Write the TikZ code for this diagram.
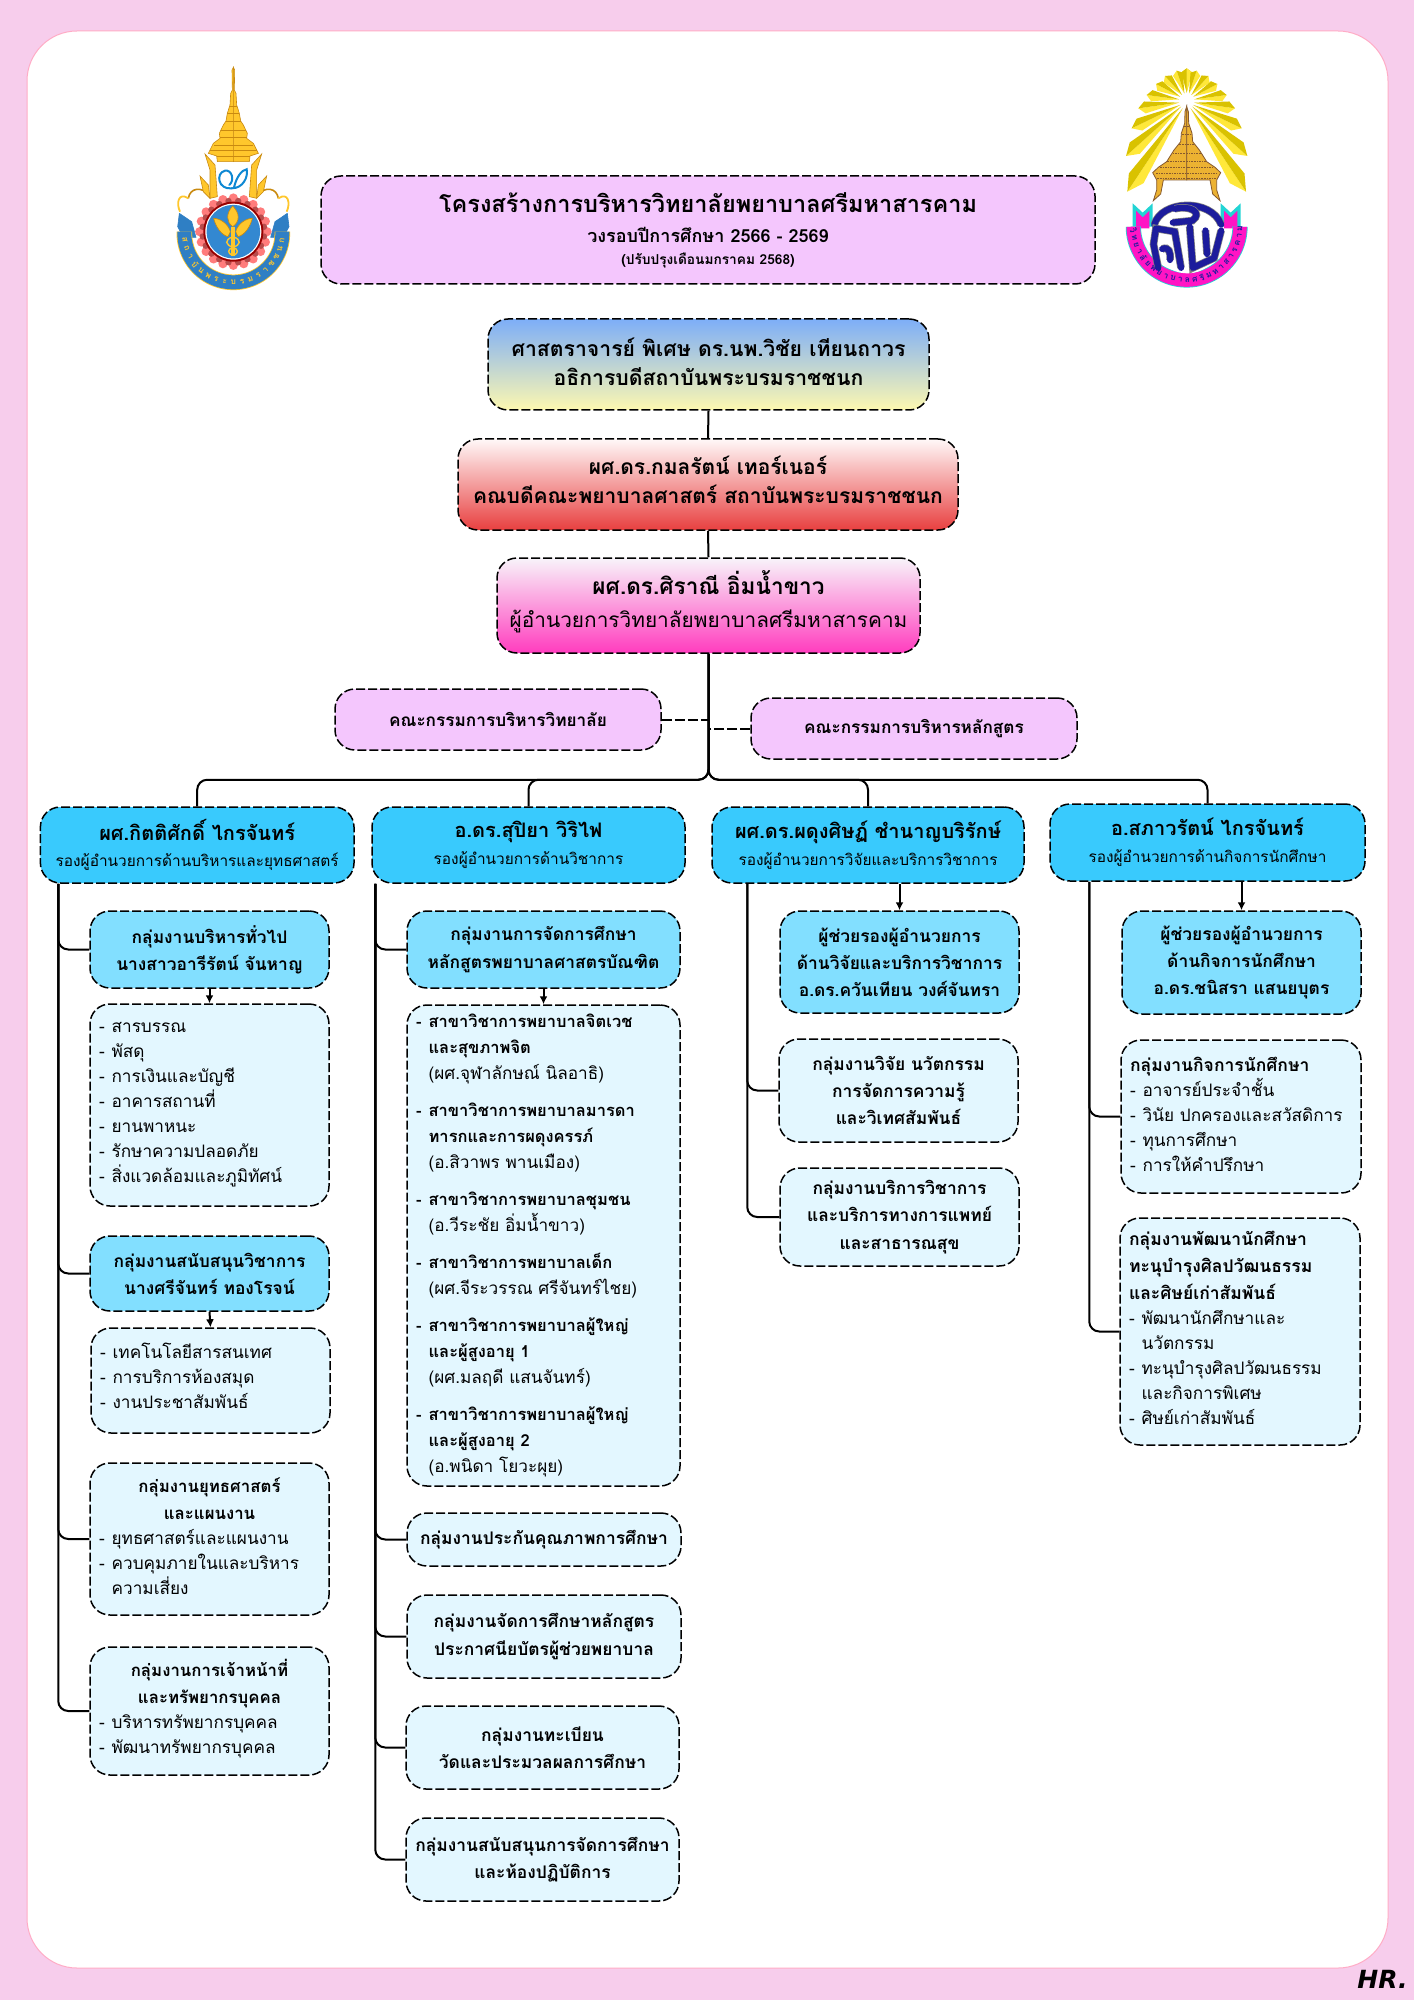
\documentclass[tikz,border=0pt]{standalone}
\usepackage{fontspec}
\setmainfont[Script=Thai]{Loma}
\newfontfamily\hrfont{DejaVu Sans}
\usetikzlibrary{calc,arrows.meta}
\lineskiplimit=-100pt
\definecolor{bgpink}{HTML}{F7CDEC}
\definecolor{headblue}{HTML}{39CAFD}
\definecolor{subblue}{HTML}{82DFFF}
\definecolor{lightblue}{HTML}{E3F7FF}
\definecolor{titlepink}{HTML}{F4C6FD}
\definecolor{goldA}{HTML}{FFC72C}
\definecolor{goldB}{HTML}{C98A10}
\definecolor{ribA}{HTML}{2F7FC4}
\definecolor{rayL}{HTML}{FFE83A}
\definecolor{rayD}{HTML}{D9C200}
\definecolor{embB}{HTML}{1C1C9C}
\definecolor{magB}{HTML}{FF14C4}
\definecolor{cyanB}{HTML}{22D4D4}
\definecolor{gAt}{HTML}{7DAEF8}
\definecolor{gAb}{HTML}{FDF8B0}
\definecolor{gBt}{HTML}{FFF8F8}
\definecolor{gBb}{HTML}{E84040}
\definecolor{gCt}{HTML}{F8F4FA}
\definecolor{gCb}{HTML}{FF3CBE}
\newsavebox{\tbx}
\newcommand{\fs}[2]{\fontsize{#1}{#2}\selectfont}
\newcommand{\bx}[7]{%
  \pgfmathsetmacro\bw{(#4-#2)*0.5}%
  \pgfmathsetmacro\bh{(#5-#3)*0.5}%
  \pgfmathsetmacro\tw{\bw-9}%
  \node[#6,minimum width=\bw pt,minimum height=\bh pt] (#1) at ({(#2+#4)/2},{(#3+#5)/2}) {#7};}
\newcommand{\li}[1]{\makebox[6.3pt][l]{-}#1}
\newcommand{\lin}[1]{\makebox[6.3pt][l]{}#1}
\newcommand{\lib}[2]{{\bfseries\fontsize{#1}{13}\selectfont\li{#2}}}
\newcommand{\linb}[2]{{\bfseries\fontsize{#1}{13}\selectfont\lin{#2}}}
\newcommand{\hb}[2]{{\bfseries\fontsize{#1}{13}\selectfont #2}}
\newcommand{\cn}[2]{\makebox[\tw pt][c]{\bfseries\fontsize{#1}{13}\selectfont #2}}
\newcommand{\up}[2]{\sbox{\tbx}{\parbox{\tw pt}{\raggedright #2}}\raisebox{#1}[\ht\tbx][\dp\tbx]{\usebox{\tbx}}}
\newcommand{\upc}[2]{\sbox{\tbx}{\parbox{\tw pt}{\centering #2}}\raisebox{#1}[\ht\tbx][\dp\tbx]{\usebox{\tbx}}}
\tikzset{
  base/.style={draw=black,line width=0.75pt,dash pattern=on 4.5pt off 1.5pt,rounded corners=10pt,inner sep=2pt,align=center},
  titlebox/.style={base,fill=titlepink},
  headbox/.style={base,fill=headblue,font=\fs{8}{13.4}},
  subbox/.style={base,fill=subblue,font=\bfseries\fs{8.7}{13.6}},
  lightbox/.style={base,fill=lightblue,font=\bfseries\fs{8.7}{13.6}},
  listbox/.style={base,fill=lightblue,inner sep=4.5pt,align=left,text width=\tw pt,font=\fs{8.6}{12.5}},
  conn/.style={draw=black,line width=1pt,rounded corners=5pt},
  arr/.style={draw=black,line width=1pt,-{Latex[length=4pt,width=4pt]}},
  dashc/.style={draw=black,line width=1pt,dash pattern=on 5pt off 1.5pt},
  gold/.style={fill=goldA,draw=goldB,line width=0.3pt},
  emb/.style={draw=embB,line width=3.1pt,line cap=round,line join=round,preaction={draw=gray,line width=3.8pt}},
  ringt/.style={inner sep=0pt,font=\bfseries\fs{4.2}{5}}
}
\begin{document}
\begin{tikzpicture}[x=0.5pt,y=-0.5pt]
\useasboundingbox (0,0) rectangle (1414,2000);
\fill[bgpink] (0,0) rectangle (1414,2000);
\draw[fill=white,draw=pink!90!magenta,line width=0.5pt,rounded corners=25pt] (27,31) rectangle (1388,1968);

% ---- left logo
\begin{scope}[shift={(160,50)},x=0.16667pt,y=-0.16667pt]
  \foreach \m in {1,-1}{
  \begin{scope}[shift={(220,0)},xscale=\m]
    \draw[ribA,fill=ribA,line width=0.3pt] (-162,490)--(-125,515)--(-112,562)--(-150,562)--(-167,530)--cycle;
    \draw[goldB,line width=0.8pt] (-60,440) .. controls (-100,405) and (-130,415) .. (-135,445);
    \draw[goldA,line width=0.9pt] (-135,445) .. controls (-165,425) and (-172,460) .. (-160,485);
    \draw[gold] (-85,312)--(-55,345)--(-48,440)--(-70,445)--(-70,360)--cycle;
    \draw[gold] (-100,378)--(-75,405)--(-70,445)--(-90,425)--cycle;
    \draw[gold] (0,52)--(-4,60)--(-3,120)--(-8,130)--(-10,165)--(-18,190)--(-22,213)--(-30,225)--(-42,250)--(-40,265)--(-60,280)--(-75,310)--(-50,318)--(-48,335)--(0,335)--cycle;
    \foreach \yy/\xx in {170/11,190/18,213/22,240/38,262/40,285/58,300/70,318/50}{
      \draw[goldB,line width=0.25pt] (-\xx,\yy)--(0,\yy);}
  \end{scope}}
  \foreach \a in {0,18,...,342}{\fill[red!35!pink] ({220+101*cos(\a)},{545+101*sin(\a)}) circle[radius=2.3pt];}
  \foreach \a in {9,27,...,351}{\fill[red!60!black!70!white] ({220+93*cos(\a)},{545+93*sin(\a)}) circle[radius=1.6pt];}
  \fill[red!60!black] (220,545) circle[radius=15pt];
  \fill[white] (220,545) circle[radius=14pt];
  \fill[cyan!60!blue!85!white] (220,545) circle[radius=13.4pt];
  \draw[goldA,line width=7.8pt] plot[domain=-2:182,samples=50] ({220+147*cos(\x)},{550+147*sin(\x)});
  \draw[ribA,line width=7pt] plot[domain=-2:182,samples=50] ({220+147*cos(\x)},{550+147*sin(\x)});
  \draw[cyan!70!blue,line width=1pt,line cap=round] (215,415) .. controls (175,420) and (165,370) .. (195,362) .. controls (215,358) and (225,390) .. (208,405);
  \draw[cyan!70!blue,line width=1pt,line cap=round] (215,415) .. controls (250,415) and (265,380) .. (260,358) .. controls (245,360) and (230,380) .. (222,412);
  \draw[gold] (218,468) .. controls (240,490) and (240,515) .. (218,530) .. controls (198,515) and (198,490) .. cycle;
  \foreach \m in {1,-1}{
  \begin{scope}[shift={(219,0)},xscale=\m]
    \draw[gold] (-58,505) .. controls (-40,505) and (-15,520) .. (-8,545) -- (-15,560) .. controls (-35,555) and (-52,530) .. cycle;
    \draw[goldA,line width=0.7pt] (0,560) .. controls (-28,570) and (-22,585) .. (0,592) .. controls (18,598) and (15,610) .. (4,615);
  \end{scope}}
  \fill[goldA] (212,530) rectangle (226,618);
  \foreach \c [count=\i] in {ส,ถ,า,บั,น,พ,ร,ะ,บ,ร,ม,ร,า,ช,ช,น,ก}{
    \pgfmathsetmacro\ang{172-(\i-1)*10.25}
    \node[ringt,text=goldA,rotate={90-\ang}] (lt\i) at ({220+147*cos(\ang)},{550+147*sin(\ang)}) {\c};}
\end{scope}

% ---- right logo
\begin{scope}[shift={(1110,50)},x=0.16667pt,y=-0.16667pt]
  \foreach \m in {1,-1}{
  \begin{scope}[shift={(230,0)},xscale=\m]
    \foreach \tx/\ty/\bbx/\bby/\hw in {0/55/0/128/2.6,-30/62/-7/130/2.6,-65/78/-14/135/2.7,-92/102/-20/140/2.7,-120/135/-23/148/2.8,-145/175/-23/158/3,-165/235/-20/165/3.3,-182/318/-17/170/3.8,-178/425/-12/175/4.4}{
      \coordinate (rt) at (\tx,\ty);
      \coordinate (rb) at (\bbx,\bby);
      \fill[rayL] (rb) -- ($(rb)!0.84!(rt)!\hw pt!90:(rt)$) -- (rt) -- cycle;
      \fill[rayD] (rb) -- ($(rb)!0.84!(rt)!\hw pt!-90:(rt)$) -- (rt) -- cycle;
    }
    \draw[fill=goldA!70!brown,draw=brown!70!black,line width=0.4pt] (0,170)--(-5,185)--(-6,220)--(-16,250)--(-18,275)--(-38,300)--(-60,335)--(-85,352)--(-102,368)--(-90,390)--(-90,420)--(-100,452)--(-78,432)--(-70,390)--(0,390)--cycle;
    \foreach \yy/\xx in {230/8,255/14,285/22,310/42,335/58,352/80,372/92,385/88}{
      \draw[brown!70!black,line width=0.5pt,dash pattern=on 0.8pt off 0.5pt] (-\xx,\yy)--(0,\yy);}
    \fill[cyanB] (-162,460)--(-132,488)--(-102,460)--(-102,530)--(-162,530)--cycle;
    \fill[magB] (-152,482)--(-132,502)--(-112,482)--(-112,535)--(-152,535)--cycle;
  \end{scope}}
  \draw[cyanB,line width=7.6pt] plot[domain=0:180,samples=50] ({230+160*cos(\x)},{530+160*sin(\x)});
  \draw[magB,line width=6.8pt] plot[domain=0:180,samples=50] ({230+160*cos(\x)},{530+160*sin(\x)});
  \fill[white] (232,568) circle[radius=17pt];
  \begin{scope}[shift={(232,565)},scale=1.18,shift={(-232,-565)}]
  \draw[emb] (148,530) .. controls (165,468) and (292,462) .. (318,530);
  \draw[emb] (200,490) .. controls (240,480) and (272,500) .. (245,520) -- (195,525);
  \draw[emb] (158,640) -- (146,580) -- (152,540) -- (200,548) -- (216,640);
  \draw[emb] (168,592) .. controls (185,585) and (190,600) .. (188,620);
  \draw[emb] (238,535) -- (246,640) -- (300,615) -- (318,545);
  \draw[emb] (278,545) -- (282,605);
  \end{scope}
  \foreach \c [count=\i] in {วิ,ท,ย,า,ลั,ย,พ,ย,า,บ,า,ล,ศ,รี,ม,ห,า,ส,า,ร,ค,า,ม}{
    \pgfmathsetmacro\ang{176-(\i-1)*7.9}
    \node[ringt,text=embB,rotate={90-\ang}] (rt\i) at ({230+160*cos(\ang)},{530+160*sin(\ang)}) {\c};}
\end{scope}

% ---- boxes
\bx{title}{321}{176}{1095}{284}{titlebox,font=\bfseries\fs{9}{10.8}}{{\fs{11.75}{10.8}โครงสร้างการบริหารวิทยาลัยพยาบาลศรีมหาสารคาม}\\[4.5pt]{\fs{9}{10.8}วงรอบปีการศึกษา 2566 - 2569}\\{\fs{6.85}{10.8}(ปรับปรุงเดือนมกราคม 2568)}}
\bx{bA}{488}{319}{929}{410}{base,top color=gAt,bottom color=gAb,font=\bfseries\fs{10.6}{14.6}}{\upc{1.3pt}{ศาสตราจารย์ พิเศษ ดร.นพ.วิชัย เทียนถาวร\\อธิการบดีสถาบันพระบรมราชชนก}}
\bx{bB}{458}{439}{958}{530}{base,top color=gBt,bottom color=gBb,font=\bfseries\fs{10.5}{14.6}}{\upc{2.5pt}{ผศ.ดร.กมลรัตน์ เทอร์เนอร์\\คณบดีคณะพยาบาลศาสตร์ สถาบันพระบรมราชชนก}}
\bx{bC}{497}{558}{920}{653}{base,top color=gCt,bottom color=gCb,font=\fs{10.4}{16.5}}{\upc{1.9pt}{{\bfseries\fs{11.3}{16.5}ผศ.ดร.ศิราณี อิ่มน้ำขาว\par}ผู้อำนวยการวิทยาลัยพยาบาลศรีมหาสารคาม}}
\bx{cL}{335}{689}{661}{750}{titlebox,font=\bfseries\fs{8.6}{13}}{คณะกรรมการบริหารวิทยาลัย}
\bx{cR}{751}{698}{1077}{759}{titlebox,font=\bfseries\fs{8.6}{13}}{คณะกรรมการบริหารหลักสูตร}

\bx{hA}{40.4}{807}{354}{883}{headbox}{{\bfseries\fs{10}{13.4}ผศ.กิตติศักดิ์ ไกรจันทร์}\\{\fs{7.7}{13.4}รองผู้อำนวยการด้านบริหารและยุทธศาสตร์}}
\bx{hB}{372}{807}{685}{883}{headbox}{{\bfseries\fs{10}{13.4}อ.ดร.สุปิยา วิริไฟ}\\{\fs{7.7}{13.4}รองผู้อำนวยการด้านวิชาการ}}
\bx{hC}{712}{807}{1024}{883}{headbox}{{\bfseries\fs{10}{13.4}ผศ.ดร.ผดุงศิษฏ์ ชำนาญบริรักษ์}\\{\fs{7.7}{13.4}รองผู้อำนวยการวิจัยและบริการวิชาการ}}
\bx{hD}{1050}{804}{1365}{881}{headbox}{{\bfseries\fs{10}{13.4}อ.สภาวรัตน์ ไกรจันทร์}\\{\fs{7.7}{13.4}รองผู้อำนวยการด้านกิจการนักศึกษา}}

\bx{a1}{90}{911}{329}{988}{subbox}{กลุ่มงานบริหารทั่วไป\\นางสาวอารีรัตน์ จันหาญ}
\bx{a1d}{90}{1004}{329}{1206}{listbox}{\li{สารบรรณ}\\\li{พัสดุ}\\\li{การเงินและบัญชี}\\\li{อาคารสถานที่}\\\li{ยานพาหนะ}\\\li{รักษาความปลอดภัย}\\\li{สิ่งแวดล้อมและภูมิทัศน์}}
\bx{a2}{90}{1236}{329}{1311}{subbox}{กลุ่มงานสนับสนุนวิชาการ\\นางศรีจันทร์ ทองโรจน์}
\bx{a2d}{91}{1328}{330}{1433}{listbox}{\up{2.5pt}{\li{เทคโนโลยีสารสนเทศ}\\\li{การบริการห้องสมุด}\\\li{งานประชาสัมพันธ์}}}
\bx{a3}{90}{1463}{329}{1615}{listbox}{\up{1.6pt}{\cn{8.4}{กลุ่มงานยุทธศาสตร์}\\[1pt]\cn{8.4}{และแผนงาน}\\\li{ยุทธศาสตร์และแผนงาน}\\\li{ควบคุมภายในและบริหาร}\\\lin{ความเสี่ยง}}}
\bx{a4}{90}{1647}{329}{1775}{listbox}{\up{1.3pt}{\cn{8.4}{กลุ่มงานการเจ้าหน้าที่}\\[1pt]\cn{8.4}{และทรัพยากรบุคคล}\\\li{บริหารทรัพยากรบุคคล}\\\li{พัฒนาทรัพยากรบุคคล}}}

\bx{b1}{407}{911}{680}{988}{subbox}{กลุ่มงานการจัดการศึกษา\\หลักสูตรพยาบาลศาสตรบัณฑิต}
\bx{b1d}{407}{1006}{680}{1485}{listbox,font=\fs{8.6}{13}}{%
\lib{8.25}{สาขาวิชาการพยาบาลจิตเวช}\\\linb{8.25}{และสุขภาพจิต}\\\lin{(ผศ.จุฬาลักษณ์ นิลอาธิ)}\\[5.5pt]%
\lib{8.25}{สาขาวิชาการพยาบาลมารดา}\\\linb{8.25}{ทารกและการผดุงครรภ์}\\\lin{(อ.สิวาพร พานเมือง)}\\[5.5pt]%
\lib{8.25}{สาขาวิชาการพยาบาลชุมชน}\\\lin{(อ.วีระชัย อิ่มน้ำขาว)}\\[5.5pt]%
\lib{8.25}{สาขาวิชาการพยาบาลเด็ก}\\\lin{(ผศ.จีระวรรณ ศรีจันทร์ไชย)}\\[5.5pt]%
\lib{8.25}{สาขาวิชาการพยาบาลผู้ใหญ่}\\\linb{8.25}{และผู้สูงอายุ 1}\\\lin{(ผศ.มลฤดี แสนจันทร์)}\\[5.5pt]%
\lib{8.25}{สาขาวิชาการพยาบาลผู้ใหญ่}\\\linb{8.25}{และผู้สูงอายุ 2}\\\lin{(อ.พนิดา โยวะผุย)}}
\bx{b2}{407}{1513}{681}{1566}{lightbox}{กลุ่มงานประกันคุณภาพการศึกษา}
\bx{b3}{407}{1595}{681}{1678}{lightbox}{กลุ่มงานจัดการศึกษาหลักสูตร\\ประกาศนียบัตรผู้ช่วยพยาบาล}
\bx{b4}{406}{1706}{679}{1789}{lightbox}{กลุ่มงานทะเบียน\\วัดและประมวลผลการศึกษา}
\bx{b5}{406}{1818}{679}{1901}{lightbox}{กลุ่มงานสนับสนุนการจัดการศึกษา\\และห้องปฏิบัติการ}

\bx{c1}{780}{911}{1019}{1013}{subbox}{ผู้ช่วยรองผู้อำนวยการ\\ด้านวิจัยและบริการวิชาการ\\อ.ดร.ควันเทียน วงศ์จันทรา}
\bx{c2}{779}{1039}{1018}{1142}{lightbox}{กลุ่มงานวิจัย นวัตกรรม\\การจัดการความรู้\\และวิเทศสัมพันธ์}
\bx{c3}{780}{1168}{1019}{1266}{lightbox}{กลุ่มงานบริการวิชาการ\\และบริการทางการแพทย์\\และสาธารณสุข}

\bx{d1}{1122}{911}{1361}{1014}{subbox}{ผู้ช่วยรองผู้อำนวยการ\\ด้านกิจการนักศึกษา\\อ.ดร.ชนิสรา แสนยบุตร}
\bx{d2}{1121}{1040}{1361}{1193}{listbox}{\up{1.3pt}{\hb{8.75}{กลุ่มงานกิจการนักศึกษา}\\\li{อาจารย์ประจำชั้น}\\\li{วินัย ปกครองและสวัสดิการ}\\\li{ทุนการศึกษา}\\\li{การให้คำปรึกษา}}}
\bx{d3}{1120}{1218}{1360}{1445}{listbox}{\up{1.6pt}{\hb{8.75}{กลุ่มงานพัฒนานักศึกษา}\\[1pt]\hb{8.75}{ทะนุบำรุงศิลปวัฒนธรรม}\\[1pt]\hb{8.75}{และศิษย์เก่าสัมพันธ์}\\\li{พัฒนานักศึกษาและ}\\\lin{นวัตกรรม}\\\li{ทะนุบำรุงศิลปวัฒนธรรม}\\\lin{และกิจการพิเศษ}\\\li{ศิษย์เก่าสัมพันธ์}}}

% ---- connectors
\draw[conn] (bA.south) -- (bB.north);
\draw[conn] (bB.south) -- (bC.north);
\draw[conn] (bC.south) -- ++(0,126) -| (hA.north);
\draw[conn] (bC.south) -- ++(0,126) -| (hB.north);
\draw[conn] (bC.south) -- ++(0,126) -| (hC.north);
\draw[conn] (bC.south) -- ++(0,126) -| (hD.north);
\draw[dashc] (cL.east) -- (cL.east -| bC.south);
\draw[dashc] (cR.west) -- (cR.west -| bC.south);

\foreach \t in {a1,a2,a3,a4}{\draw[conn] ([xshift=9.3pt]hA.south west) |- (\t.west);}
\foreach \t in {b1,b2,b3,b4,b5}{\draw[conn] ([xshift=2pt]hB.south west) |- (\t.west);}
\foreach \t in {c2,c3}{\draw[conn] ([xshift=18pt]hC.south west) |- (\t.west);}
\foreach \t in {d2,d3}{\draw[conn] ([xshift=20pt]hD.south west) |- (\t.west);}
\draw[arr] (a1.south) -- (a1d.north);
\draw[arr] (a2.south) -- (a2d.north);
\draw[arr] (b1.south) -- (b1d.north);
\draw[arr] (c1.north |- hC.south) -- (c1.north);
\draw[arr] (d1.north |- hD.south) -- (d1.north);

\node[font=\hrfont\bfseries\itshape\fs{12.5}{14},inner sep=0pt,anchor=east] (hr) at (1408,1979) {HR.};
\end{tikzpicture}
\end{document}
